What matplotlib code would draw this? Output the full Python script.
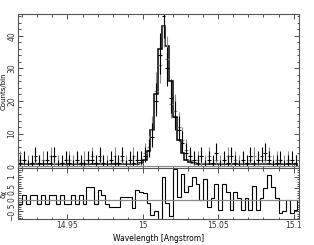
import numpy as np
import matplotlib
matplotlib.use("Agg")
import matplotlib.pyplot as plt
from matplotlib.ticker import MultipleLocator

# ---- data ----
bin_start = 14.9175
bin_width = 0.0025
counts_black = [1, 2, 0, 1, 3, 1, 0, 2, 1, 3, 0, 1, 2, 1, 0, 2, 1, 0, 2, 2,
                1, 3, 1, 0, 2, 1, 1, 3, 0, 2, 1, 2,
                2, 3, 5, 9, 20, 34, 46, 30, 21, 15, 11, 7, 4, 3, 2,
                1, 3, 0, 2, 1, 4, 0, 2, 1, 3, 1, 0, 2, 1, 3, 0, 2, 3, 4, 2,
                0, 1, 2, 0, 1, 2, 1]
counts_gray = [2, 1, 1, 0, 2, 1, 2, 0, 3, 1, 1, 0, 1, 2, 1, 1, 0, 2, 1, 3,
               0, 2, 1, 1, 0, 3, 1, 2, 1, 1, 3, 1,
               1, 4, 6, 11, 23, 31, 43, 33, 19, 17, 12, 8, 5, 2, 1,
               2, 1, 1, 3, 0, 2, 1, 1, 3, 0, 2, 1, 1, 0, 2, 3, 1, 2, 2, 3,
               1, 2, 0, 1, 2, 0, 1]
model = [0.8] * 32 + [1.0, 1.8, 4.5, 11, 22, 36, 43, 37, 26, 15, 8, 4, 2, 1.2, 0.9] + [0.8] * 27
resid = [-0.16, 0.23, -0.16, 0.23, 0.23, -0.16, 0.23, -0.16, 0.23, 0.23,
         -0.16, 0.23, -0.16, -0.16, 0.23, -0.16, 0.23, -0.16, 0.55, 0.55,
         -0.16, 0.45, 0.2, -0.16, -0.3, -0.3, -0.3, 0.15, 0.15, 0.15,
         -0.35, 0.45, 0.35, 0.3, -0.15, -0.65, -0.5, -0.85, 1.0, -0.15,
         -0.7, 1.35, 0.15, 1.15, 0.35, 0.6, 1.0, 0.7, 0.0, 0.9,
         -0.3, 0.1, 0.7, -0.45, 0.7, 0.35, -0.45, 0.35, 0.1, -0.45,
         0.1, -0.45, 0.6, -0.45, 0.1, 0.5, 1.1, 0.55, 0.1, -0.55,
         -0.5, 0.0, -0.55, -0.45]

xlim = (14.9175, 15.1035)
ylim_top = (-0.6, 46.7)
ylim_bot = (-0.82, 1.39)

n = len(counts_black)
edges = bin_start + bin_width * np.arange(n + 1)
centers = 0.5 * (edges[:-1] + edges[1:])


def gehrels(c):
    c = np.array(c, float)
    up = 1.0 + np.sqrt(c + 0.75)
    lo = np.minimum(np.sqrt(c), c)
    return np.vstack([lo, up])


cb = np.array(counts_black, float)
cg = np.array(counts_gray, float)

fig = plt.figure(figsize=(3.14, 2.45), dpi=100)
ax1 = fig.add_axes([0.0589, 0.314, 0.893, 0.629])
ax2 = fig.add_axes([0.0589, 0.107, 0.893, 0.207], sharex=ax1)

gray = '#8a8a8a'
ax1.errorbar(centers, cg, yerr=gehrels(cg), xerr=bin_width / 2, fmt='none',
             ecolor=gray, elinewidth=0.8, capsize=0)
ax1.errorbar(centers, cb, yerr=gehrels(cb), xerr=bin_width / 2, fmt='none',
             ecolor='black', elinewidth=0.8, capsize=0)
ax1.stairs(model, edges, color='black', lw=1.1)
ax1.axhline(0, color=gray, lw=0.8)
ax1.set_xlim(*xlim)
ax1.set_ylim(*ylim_top)

ax2.stairs(resid, edges, color='black', lw=0.8)
ax2.axhline(0, color=gray, lw=0.9)
ax2.set_ylim(*ylim_bot)

for ax in (ax1, ax2):
    for s in ax.spines.values():
        s.set_color('#555555')
        s.set_linewidth(0.8)
    ax.tick_params(which='both', direction='in', top=True, right=True,
                   labelsize=5.5, width=0.6, colors='#333333', pad=1.5)
    ax.tick_params(which='major', length=3.5)
    ax.tick_params(which='minor', length=1.8)
    ax.xaxis.set_major_locator(MultipleLocator(0.05))
    ax.xaxis.set_minor_locator(MultipleLocator(0.01))

ax1.yaxis.set_major_locator(MultipleLocator(10))
ax1.yaxis.set_minor_locator(MultipleLocator(2))
ax2.yaxis.set_major_locator(MultipleLocator(0.5))
ax2.yaxis.set_minor_locator(MultipleLocator(0.1))
plt.setp(ax1.get_xticklabels(), visible=False)
ax2.set_yticks([-0.5, 0, 0.5, 1])
ax2.set_yticklabels(['\u22120.5', '0', '0.5', '1'], rotation=90, va='center')
ax1.set_yticks([0, 10, 20, 30, 40])
ax1.set_yticklabels(['0', '10', '20', '30', '40'], rotation=90, va='center')
ax2.set_xticks([14.95, 15.0, 15.05, 15.1])
ax2.set_xticklabels(['14.95', '15', '15.05', '15.1'])

ax1.set_ylabel('Counts/bin', fontsize=5)
ax2.set_ylabel('\u03b4\u03c7', fontsize=5)
ax1.yaxis.set_label_coords(-0.042, 0.5)
ax2.yaxis.set_label_coords(-0.042, 0.5)
ax2.set_xlabel('Wavelength [Angstrom]', fontsize=5.5, labelpad=3)

fig.savefig('out.png', dpi=100)
